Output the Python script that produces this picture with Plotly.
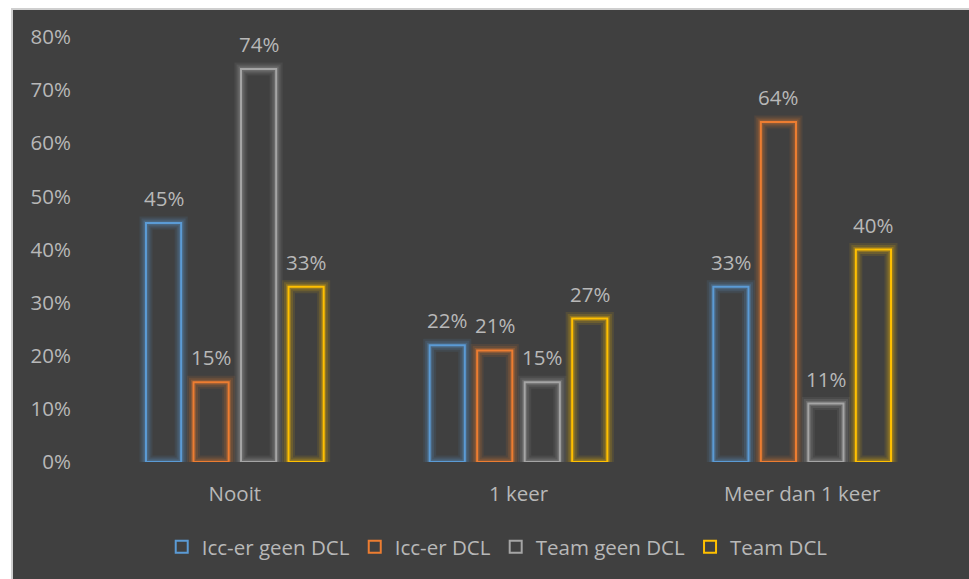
import plotly.graph_objects as go

categories = ["Nooit", "1 keer", "Meer dan 1 keer"]
series_names = ["Icc-er geen DCL", "Icc-er DCL", "Team geen DCL", "Team DCL"]
icc_geen_dcl = [45, 22, 33]
icc_dcl = [15, 21, 64]
team_geen_dcl = [74, 15, 11]
team_dcl = [33, 27, 40]
y_ticks = [0, 10, 20, 30, 40, 50, 60, 70, 80]

series_values = [icc_geen_dcl, icc_dcl, team_geen_dcl, team_dcl]
colors = ["#5b9bd5", "#ed7d31", "#a5a5a5", "#ffc000"]

W, H = 969, 579
M_L, M_R, M_T, M_B = 93, 25, 37, 117
BARGAP, BARGROUPGAP = 0.33, 0.26
BG = "#404040"
TXT = "#b8b8b8"
FONT = "Open Sans"
FS = 20.5


def rgba(hex_color, a):
    h = hex_color.lstrip("#")
    r, g, b = int(h[0:2], 16), int(h[2:4], 16), int(h[4:6], 16)
    return f"rgba({r},{g},{b},{a})"


fig = go.Figure()

for i, (name, vals, col) in enumerate(zip(series_names, series_values, colors)):
    grp = f"g{i}"
    # soft glow around each outlined bar
    for lw, a in [(13, 0.10), (9, 0.15), (5, 0.25)]:
        fig.add_trace(go.Bar(
            x=categories, y=vals, offsetgroup=grp, showlegend=False,
            hoverinfo="skip",
            marker=dict(color="rgba(0,0,0,0)", line=dict(color=rgba(col, a), width=lw)),
        ))
    fig.add_trace(go.Bar(
        x=categories, y=vals, name=name, offsetgroup=grp,
        marker=dict(color="rgba(64,64,64,0)", line=dict(color=col, width=2)),
    ))

# value labels above the bars
plot_w = W - M_L - M_R
slot = plot_w / len(categories) * (1 - BARGAP) / len(series_names)
for i, vals in enumerate(series_values):
    xshift = (i - (len(series_names) - 1) / 2) * slot
    for cat, v in zip(categories, vals):
        fig.add_annotation(
            x=cat, y=v, text=f"{v}%", showarrow=False,
            xshift=xshift, yshift=25, yanchor="middle",
            font=dict(family=FONT, size=FS, color=TXT),
        )

# dark chart area with light border
fig.add_shape(
    type="rect", xref="paper", yref="paper", layer="below",
    x0=(12 - M_L) / plot_w, x1=1.2,
    y0=-0.5, y1=(H - M_B - 9) / (H - M_T - M_B),
    fillcolor=BG, line=dict(color="#cfcfcf", width=2),
)

fig.update_layout(
    width=W, height=H,
    margin=dict(l=M_L, r=M_R, t=M_T, b=M_B),
    paper_bgcolor="white",
    plot_bgcolor="rgba(0,0,0,0)",
    barmode="group",
    bargap=BARGAP,
    bargroupgap=BARGROUPGAP,
    font=dict(family=FONT, size=FS, color=TXT),
    showlegend=True,
    legend=dict(
        orientation="h", x=0.475, xanchor="center", y=-0.2, yanchor="middle",
        font=dict(family=FONT, size=FS, color=TXT),
        bgcolor="rgba(0,0,0,0)", itemclick=False, itemdoubleclick=False,
    ),
    xaxis=dict(
        showgrid=False, showline=False, zeroline=False, ticks="",
        ticklabelstandoff=17, tickfont=dict(size=FS, color=TXT),
    ),
    yaxis=dict(
        range=[0, 80], tickvals=y_ticks, ticktext=[f"{t}%" for t in y_ticks],
        showgrid=False, showline=False, zeroline=False, ticks="",
        ticklabelstandoff=21, tickfont=dict(size=FS, color=TXT),
    ),
)

fig.write_html("out.html")
